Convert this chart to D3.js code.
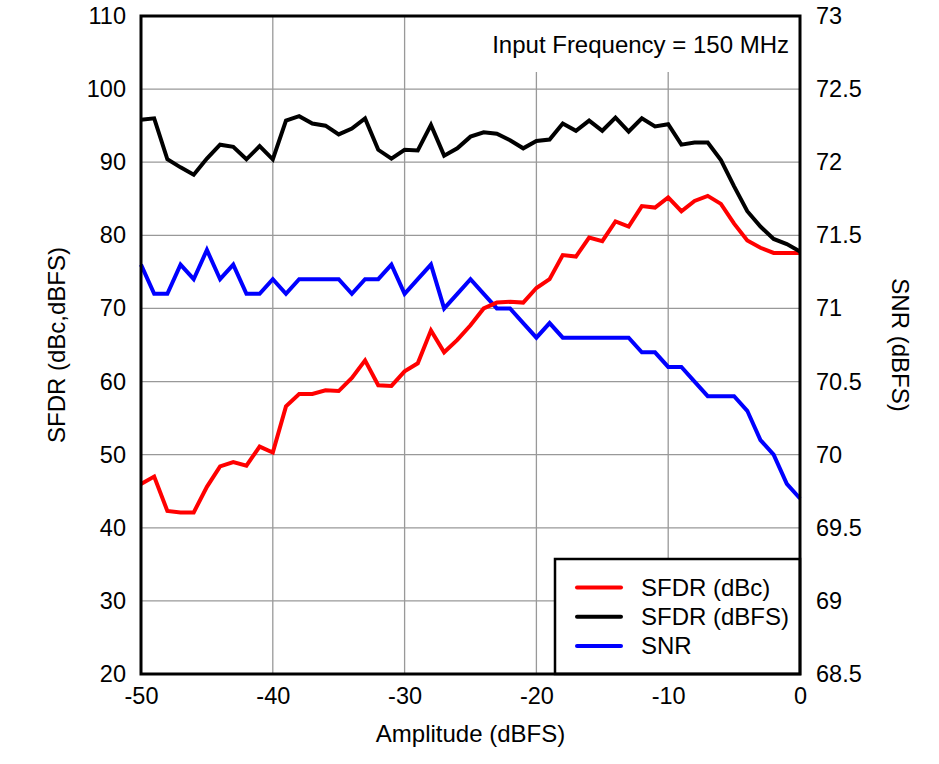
<!DOCTYPE html>
<html>
<head>
<meta charset="utf-8">
<script src="https://cdn.jsdelivr.net/npm/d3@7"></script>
<style>
  html, body { margin: 0; padding: 0; background: #fff; }
  svg { display: block; font-family: Arial, "Liberation Sans", sans-serif; }
</style>
</head>
<body>
<svg id="chart" width="939" height="764"></svg>
<script>
const amplitude = [-50,-49,-48,-47,-46,-45,-44,-43,-42,-41,-40,-39,-38,-37,-36,-35,-34,-33,-32,-31,-30,-29,-28,-27,-26,-25,-24,-23,-22,-21,-20,-19,-18,-17,-16,-15,-14,-13,-12,-11,-10,-9,-8,-7,-6,-5,-4,-3,-2,-1,0];
const sfdrDbc = [46.0,47.0,42.3,42.1,42.1,45.6,48.4,49.0,48.5,51.1,50.3,56.6,58.3,58.3,58.8,58.7,60.5,62.9,59.5,59.4,61.4,62.5,67.0,64.0,65.7,67.7,70.0,70.8,70.9,70.8,72.8,74.0,77.3,77.1,79.7,79.2,81.9,81.2,84.0,83.8,85.2,83.3,84.7,85.4,84.3,81.6,79.3,78.3,77.6,77.6,77.6];
const sfdrDbfs = [95.8,96.0,90.4,89.3,88.3,90.5,92.4,92.1,90.4,92.2,90.4,95.7,96.3,95.3,95.0,93.8,94.6,96.0,91.7,90.5,91.7,91.6,95.1,90.9,91.9,93.5,94.1,93.9,93.0,91.9,92.9,93.1,95.3,94.3,95.7,94.3,96.1,94.2,96.0,94.9,95.2,92.4,92.7,92.7,90.3,86.7,83.3,81.2,79.5,78.8,77.8];
const snr = [71.3,71.1,71.1,71.3,71.2,71.4,71.2,71.3,71.1,71.1,71.2,71.1,71.2,71.2,71.2,71.2,71.1,71.2,71.2,71.3,71.1,71.2,71.3,71.0,71.1,71.2,71.1,71.0,71.0,70.9,70.8,70.9,70.8,70.8,70.8,70.8,70.8,70.8,70.7,70.7,70.6,70.6,70.5,70.4,70.4,70.4,70.3,70.1,70.0,69.8,69.7];

const xTicks = [-50,-40,-30,-20,-10,0];
const yLeftTicks = [20,30,40,50,60,70,80,90,100,110];
const yRightTicks = [68.5,69,69.5,70,70.5,71,71.5,72,72.5,73];

const seriesNames = ["SFDR (dBc)", "SFDR (dBFS)", "SNR"];
const seriesColors = ["#ff0000", "#000000", "#0000ff"];
const titleText = "Input Frequency = 150 MHz";
const xLabel = "Amplitude (dBFS)";
const yLeftLabel = "SFDR (dBc,dBFS)";
const yRightLabel = "SNR (dBFS)";

const L = 141, R = 800, T = 16, B = 674;
const svg = d3.select("#chart");

const x = d3.scaleLinear().domain([-50, 0]).range([L, R]);
const yL = d3.scaleLinear().domain([20, 110]).range([B, T]);
const yR = d3.scaleLinear().domain([68.5, 73]).range([B, T]);

// gridlines
const grid = svg.append("g").attr("stroke", "#999").attr("stroke-width", 1.3);
grid.selectAll("line.v").data(xTicks.filter(d => d > -50 && d < 0)).join("line")
  .attr("x1", d => x(d)).attr("x2", d => x(d)).attr("y1", T).attr("y2", B);
grid.selectAll("line.h").data(yLeftTicks.filter(d => d > 20 && d < 110)).join("line")
  .attr("x1", L).attr("x2", R).attr("y1", d => yL(d)).attr("y2", d => yL(d));

// axes (labels only)
const fs = 23.5;
const fmt = d => String(d);
const axB = svg.append("g").attr("transform", `translate(0,${B})`)
  .call(d3.axisBottom(x).tickValues(xTicks).tickSize(0).tickPadding(13).tickFormat(fmt));
const axL = svg.append("g").attr("transform", `translate(${L},0)`)
  .call(d3.axisLeft(yL).tickValues(yLeftTicks).tickSize(0).tickPadding(15).tickFormat(fmt));
const axR = svg.append("g").attr("transform", `translate(${R},0)`)
  .call(d3.axisRight(yR).tickValues(yRightTicks).tickSize(0).tickPadding(16).tickFormat(fmt));
[axB, axL, axR].forEach(a => {
  a.select(".domain").remove();
  a.selectAll("text").attr("font-size", fs).attr("fill", "#000").attr("font-family", "Arial, 'Liberation Sans', sans-serif");
});
axB.selectAll("text").attr("dy", "0.71em");

// lines
const lineL = d3.line().x((d, i) => x(amplitude[i])).y(d => yL(d));
const lineR = d3.line().x((d, i) => x(amplitude[i])).y(d => yR(d));
const lw = 4;
svg.append("path").datum(snr).attr("d", lineR).attr("fill", "none").attr("stroke", seriesColors[2]).attr("stroke-width", lw).attr("stroke-linejoin", "miter");
svg.append("path").datum(sfdrDbc).attr("d", lineL).attr("fill", "none").attr("stroke", seriesColors[0]).attr("stroke-width", lw).attr("stroke-linejoin", "miter");
svg.append("path").datum(sfdrDbfs).attr("d", lineL).attr("fill", "none").attr("stroke", seriesColors[1]).attr("stroke-width", lw).attr("stroke-linejoin", "miter");

// title box
svg.append("rect").attr("x", 480).attr("y", T).attr("width", R - 480).attr("height", 56).attr("fill", "#fff");
svg.append("text").attr("x", 789).attr("y", 53).attr("text-anchor", "end").attr("font-size", 24).text(titleText);

// legend
const lg = svg.append("g");
lg.append("rect").attr("x", 555).attr("y", 559).attr("width", R - 555).attr("height", B - 559)
  .attr("fill", "#fff").attr("stroke", "#000").attr("stroke-width", 2.5);
seriesNames.forEach((name, i) => {
  const cy = 587.5 + i * 29.2;
  lg.append("line").attr("x1", 577).attr("x2", 621).attr("y1", cy).attr("y2", cy)
    .attr("stroke", seriesColors[i]).attr("stroke-width", 4).attr("stroke-linecap", "round");
  lg.append("text").attr("x", 641).attr("y", cy + 8.5).attr("font-size", 24).text(name);
});

// frame
svg.append("rect").attr("x", L).attr("y", T).attr("width", R - L).attr("height", B - T)
  .attr("fill", "none").attr("stroke", "#000").attr("stroke-width", 3);

// axis titles
svg.append("text").attr("x", (L + R) / 2).attr("y", 742).attr("text-anchor", "middle").attr("font-size", 24).text(xLabel);
svg.append("text").attr("transform", `translate(65,${(T + B) / 2}) rotate(-90)`).attr("text-anchor", "middle").attr("font-size", 24).text(yLeftLabel);
svg.append("text").attr("transform", `translate(892,${(T + B) / 2}) rotate(90)`).attr("text-anchor", "middle").attr("font-size", 24).text(yRightLabel);
</script>
</body>
</html>
